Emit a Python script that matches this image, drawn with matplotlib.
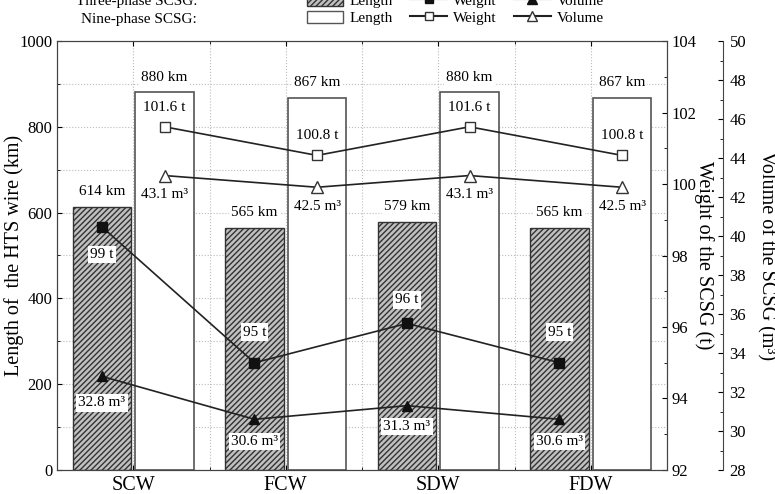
import matplotlib
matplotlib.use('Agg')
import matplotlib.pyplot as plt
import numpy as np
from matplotlib.patches import Patch
from matplotlib.lines import Line2D
from matplotlib.ticker import MultipleLocator

plt.rcParams['font.family'] = ['Liberation Serif', 'DejaVu Serif']
plt.rcParams['hatch.linewidth'] = 1.0
plt.rcParams['hatch.color'] = '#2a2a2a'

# data
categories = ['SCW', 'FCW', 'SDW', 'FDW']
length_3 = [614, 565, 579, 565]
length_9 = [880, 867, 880, 867]
weight_3 = [98.8, 95.0, 96.1, 95.0]
weight_9 = [101.6, 100.8, 101.6, 100.8]
volume_3 = [32.8, 30.6, 31.3, 30.6]
volume_9 = [43.1, 42.5, 43.1, 42.5]
weight_3_labels = ['99 t', '95 t', '96 t', '95 t']
weight_9_labels = ['101.6 t', '100.8 t', '101.6 t', '100.8 t']

# label offsets in points (above > 0, below < 0)
w3_off = [-20, 22, 17, 22]
v3_off = [-19, -16, -15, -16]

x = np.arange(len(categories))
off = 0.205
bw = 0.385

fig = plt.figure(figsize=(7.75, 4.94), dpi=100)
ax = fig.add_axes([57/775, 1-470/494, 610/775, 429/494])
ax.set_axisbelow(True)

b3 = ax.bar(x - off, length_3, bw, facecolor='#c0c0c0', edgecolor='#333333',
            hatch='//////', linewidth=1.0)
b9 = ax.bar(x + off, length_9, bw, facecolor='white', edgecolor='#555555',
            linewidth=1.2)

ax.set_xlim(-0.5, 3.5)
ax.set_ylim(0, 1000)
ax.set_xticks(x)
ax.set_xticklabels(categories)
ax.xaxis.set_minor_locator(MultipleLocator(0.5))
ax.yaxis.set_major_locator(MultipleLocator(200))
ax.yaxis.set_minor_locator(MultipleLocator(100))
ax.tick_params(which='both', direction='in', top=True, labelsize=12)
ax.tick_params(axis='x', labelsize=14.5, pad=4)
ax.grid(which='both', linestyle=':', color='#bbbbbb', linewidth=0.8)
ax.set_ylabel('Length of  the HTS wire (km)', fontsize=14.5)
ax.yaxis.set_label_coords(-0.07, 0.5)
ax.yaxis.label.set_va('center')
for s in ax.spines.values():
    s.set_color('#444444')

txt = dict(fontsize=11, ha='center', va='center')
box = dict(boxstyle='square,pad=0.15', facecolor='white', edgecolor='none')

for xi, v in zip(x - off, length_3):
    ax.annotate(f'{v} km', (xi, v), xytext=(0, 11), textcoords='offset points',
                bbox=box, **txt)
for xi, v in zip(x + off, length_9):
    ax.annotate(f'{v} km', (xi, v), xytext=(0, 11), textcoords='offset points',
                bbox=box, **txt)

# weight axis
axw = ax.twinx()
axw.set_ylim(92, 104)
axw.yaxis.set_major_locator(MultipleLocator(2))
axw.yaxis.set_minor_locator(MultipleLocator(1))
axw.tick_params(which='both', direction='in', labelsize=12, pad=3)
axw.plot(x - off, weight_3, color='#222222', lw=1.2, marker='s', ms=6.5,
         mfc='#111111', mec='#111111')
axw.plot(x + off, weight_9, color='#222222', lw=1.2, marker='s', ms=7,
         mfc='white', mec='#333333')
axw.set_ylabel('Weight of the SCSG (t)', fontsize=14.5, rotation=270)
axw.yaxis.set_label_coords(1.06, 0.5)
axw.yaxis.label.set_va('center')
for s in axw.spines.values():
    s.set_color('#444444')

for xi, v, lab, o in zip(x - off, weight_3, weight_3_labels, w3_off):
    axw.annotate(lab, (xi, v), xytext=(0, o), textcoords='offset points',
                 bbox=box, **txt)
for xi, v, lab in zip(x + off, weight_9, weight_9_labels):
    axw.annotate(lab, (xi, v), xytext=(0, 14), textcoords='offset points',
                 bbox=box, **txt)

# volume axis
axv = ax.twinx()
axv.spines['right'].set_position(('outward', 40))
axv.set_ylim(28, 50)
axv.yaxis.set_major_locator(MultipleLocator(2))
axv.yaxis.set_minor_locator(MultipleLocator(1))
axv.tick_params(which='both', direction='in', labelsize=12, pad=5)
axv.plot(x - off, volume_3, color='#222222', lw=1.2, marker='^', ms=7.5,
         mfc='#111111', mec='#111111')
axv.plot(x + off, volume_9, color='#222222', lw=1.2, marker='^', ms=8.5,
         mfc='white', mec='#333333')
axv.set_ylabel('Volume of the SCSG (m³)', fontsize=14.5, rotation=270)
axv.yaxis.set_label_coords(1.163, 0.5)
axv.yaxis.label.set_va('center')
for k in ['top', 'left', 'bottom']:
    axv.spines[k].set_visible(False)
axv.spines['right'].set_color('#444444')

for xi, v, o in zip(x - off, volume_3, v3_off):
    axv.annotate(f'{v} m³', (xi, v), xytext=(0, o), textcoords='offset points',
                 bbox=box, **txt)
for xi, v in zip(x + off, volume_9):
    axv.annotate(f'{v} m³', (xi, v), xytext=(0, -14), textcoords='offset points',
                 bbox=box, **txt)

# legend
handles = [
    Patch(facecolor='#c0c0c0', edgecolor='#333333', hatch='//////'),
    Patch(facecolor='white', edgecolor='#555555'),
    Line2D([], [], color='#222222', marker='s', mfc='#111111', mec='#111111', ms=6),
    Line2D([], [], color='#222222', marker='s', mfc='white', mec='#333333', ms=6),
    Line2D([], [], color='#222222', marker='^', mfc='#111111', mec='#111111', ms=7),
    Line2D([], [], color='#222222', marker='^', mfc='white', mec='#333333', ms=7),
]
labels = ['Length', 'Length', 'Weight', 'Weight', 'Volume', 'Volume']
fig.legend(handles, labels, ncol=3, frameon=False, fontsize=11,
           loc='upper left', bbox_to_anchor=(299/775, 1 + 14/494),
           handlelength=2.4, handleheight=0.9, labelspacing=0.15,
           columnspacing=1.15, handletextpad=0.4, borderpad=0)
fig.text(197/775, 1 - 2/494, 'Three-phase SCSG:', ha='right', va='center', fontsize=11)
fig.text(197/775, 1 - 20/494, 'Nine-phase SCSG:', ha='right', va='center', fontsize=11)

fig.savefig('out.png', dpi=100)
